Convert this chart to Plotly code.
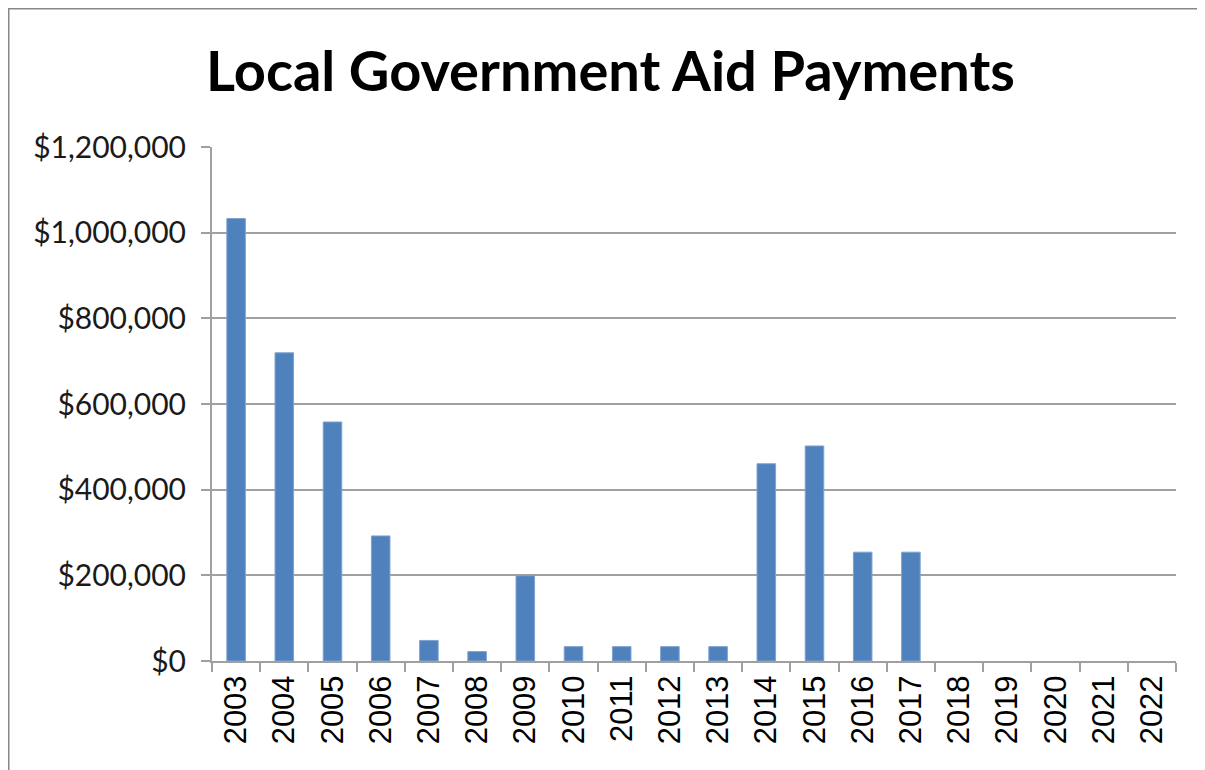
import plotly.graph_objects as go

years = [str(y) for y in range(2003, 2023)]
payments = [1033000, 719500, 558000, 292000, 48000, 22000, 199000, 33500, 33500, 33500,
            33500, 460500, 502000, 254000, 254000, None, None, None, None, None]
y_ticks = [0, 200000, 400000, 600000, 800000, 1000000, 1200000]
y_tick_text = ["$" + f"{v:,}" for v in y_ticks]

W, H = 1205, 770
L, R, T, B = 204, 37, 139, 117  # page is offset by 8px body margin
PW, PH = W - L - R, H - T - B

fig = go.Figure()
fig.add_trace(go.Bar(
    x=years, y=payments,
    marker=dict(color="#4F81BD", line=dict(color="#7FA3D0", width=1)),
    width=0.385,
))

fig.update_layout(
    width=W, height=H, autosize=False,
    paper_bgcolor="white", plot_bgcolor="white",
    margin=dict(l=L, r=R, t=T, b=B),
    showlegend=False,
    title=dict(text="<b>Local Government Aid Payments</b>",
               x=0.5, xref="container", xanchor="center",
               y=1 - 63 / H, yref="container", yanchor="middle",
               font=dict(family="Lato", size=56, color="black")),
    xaxis=dict(
        type="category", tickangle=-90, tickson="boundaries",
        ticks="outside", ticklen=9, tickcolor="#A0A0A0", tickwidth=2,
        showline=True, linecolor="#A0A0A0", linewidth=2,
        showgrid=False,
        tickfont=dict(family="Liberation Sans", size=31, color="black"),
    ),
    yaxis=dict(
        range=[0, 1200000], tickmode="array", tickvals=y_ticks, ticktext=y_tick_text,
        ticks="outside", ticklen=9, tickcolor="#A0A0A0", tickwidth=2,
        showline=True, linecolor="#A0A0A0", linewidth=2,
        showgrid=True, gridcolor="#A0A0A0", gridwidth=2,
        zeroline=False, ticklabelstandoff=9,
        tickfont=dict(family="Lato", size=30, color="#1a1a1a"),
    ),
    shapes=[
        dict(type="line", xref="paper", yref="paper",
             x0=-L / PW, x1=(PW + R) / PW, y0=1 + T / PH, y1=1 + T / PH,
             line=dict(color="#888888", width=3)),
        dict(type="line", xref="paper", yref="paper",
             x0=-L / PW, x1=-L / PW, y0=-B / PH, y1=1 + T / PH,
             line=dict(color="#888888", width=3)),
    ],
)

fig.write_html("out.html")
